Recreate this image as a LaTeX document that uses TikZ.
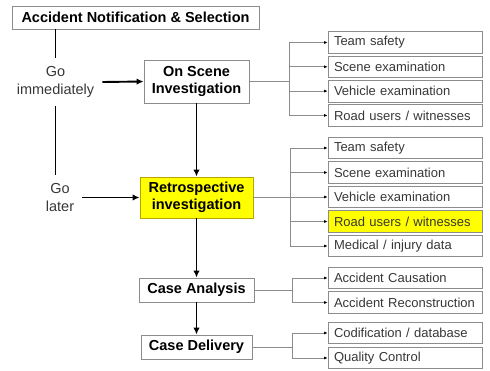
\documentclass[tikz,border=0pt]{standalone}
\usepackage{fontspec}
\setmainfont{Liberation Sans}
\usetikzlibrary{arrows.meta}

\definecolor{boxgray}{RGB}{140,140,140}
\definecolor{textgray}{RGB}{55,55,55}
\definecolor{hiyellow}{RGB}{255,255,0}
\definecolor{hiborder}{RGB}{185,165,0}

\begin{document}
\begin{tikzpicture}[x=1pt, y=-1pt]
    % Define styles
    \tikzstyle{stage} = [rectangle, draw=boxgray, line width=0.9pt, fill=white, inner sep=0pt, align=center, font=\fontsize{14.5}{17.5}\selectfont\bfseries]
    \tikzstyle{hstage} = [stage, fill=hiyellow, draw=hiborder]
    \tikzstyle{task} = [rectangle, draw=boxgray, line width=0.7pt, minimum width=154pt, minimum height=21.5pt, text width=142pt, inner xsep=6pt, inner ysep=0pt, align=left, text=textgray, font=\fontsize{13}{15}\selectfont]
    \tikzstyle{htask} = [task, fill=hiyellow]
    \tikzstyle{when} = [inner xsep=8pt, inner ysep=0pt, align=center, text=textgray, font=\fontsize{14.5}{17.5}\selectfont]
    \tikzstyle{link} = [black, line width=1.9pt]
    \tikzstyle{flow} = [link, -{Latex[length=7pt, width=6.5pt]}]
    \tikzstyle{branch} = [boxgray, line width=0.7pt, -{Latex[length=3.5pt, width=3pt, color=black]}]

    \useasboundingbox (0, 0) rectangle (490, 370);

    % Main stages
    \node[stage, minimum width=247pt, minimum height=23pt] (notify) at (135.5, 17.5) {Accident Notification \& Selection};
    \node[stage, minimum width=105pt, minimum height=43pt] (onscene) at (196.5, 81.5) {On Scene\\Investigation};
    \node[hstage, minimum width=113pt, minimum height=41pt] (retro) at (196.5, 197.5) {Retrospective\\investigation};
    \node[stage, minimum width=115pt, minimum height=24pt] (analysis) at (196.5, 290) {Case Analysis};
    \node[stage, minimum width=111pt, minimum height=24pt] (delivery) at (196.5, 347) {Case Delivery};

    % Timing
    \node[when, minimum height=47pt] (goimm) at (55.5, 82) {Go\\immediately};
    \node[when, minimum height=44pt] (golater) at (60, 197.5) {Go\\later};

    \draw[link] (notify.south -| goimm) -- (goimm.north);
    \draw[link] (goimm.south) -- (goimm.south |- golater.north);
    \draw[flow] (goimm.east) -- (onscene.west);
    \draw[flow] (golater.east) -- (retro.west);
    \draw[flow] (onscene.south) -- (retro.north);
    \draw[flow] (retro.south) -- (analysis.north);
    \draw[flow] (analysis.south) -- (delivery.north);

    % On scene tasks
    \node[task] (os1) at (405, 42.5) {Team safety};
    \node[task] (os2) at (405, 66.8) {Scene examination};
    \node[task] (os3) at (405, 91.1) {Vehicle examination};
    \node[task] (os4) at (405, 115.4) {Road users / witnesses};

    % Retrospective tasks
    \node[task] (rt1) at (405, 148) {Team safety};
    \node[task] (rt2) at (405, 172.5) {Scene examination};
    \node[task] (rt3) at (405, 197) {Vehicle examination};
    \node[htask] (rt4) at (405, 221.5) {Road users / witnesses};
    \node[task] (rt5) at (405, 246) {Medical / injury data};

    % Analysis tasks
    \node[task] (ca1) at (405, 278) {Accident Causation};
    \node[task] (ca2) at (405, 302.5) {Accident Reconstruction};

    % Delivery tasks
    \node[task] (cd1) at (405, 333) {Codification / database};
    \node[task] (cd2) at (405, 358) {Quality Control};

    % Branches
    \path (onscene.east) ++(40, 0) coordinate (split1);
    \path (retro.east) ++(37, 0) coordinate (split2);
    \path (analysis.east) ++(38, 0) coordinate (split3);
    \path (delivery.east) ++(40, 0) coordinate (split4);

    \draw[branch, -] (onscene.east) -- (split1);
    \draw[branch] (split1) |- (os1.west);
    \draw[branch] (split1) |- (os2.west);
    \draw[branch] (split1) |- (os3.west);
    \draw[branch] (split1) |- (os4.west);

    \draw[branch, -] (retro.east) -- (split2);
    \draw[branch] (split2) |- (rt1.west);
    \draw[branch] (split2) |- (rt2.west);
    \draw[branch] (split2) |- (rt3.west);
    \draw[branch] (split2) |- (rt4.west);
    \draw[branch] (split2) |- (rt5.west);

    \draw[branch, -] (analysis.east) -- (split3);
    \draw[branch] (split3) |- (ca1.west);
    \draw[branch] (split3) |- (ca2.west);

    \draw[branch, -] (delivery.east) -- (split4);
    \draw[branch] (split4) |- (cd1.west);
    \draw[branch] (split4) |- (cd2.west);

\end{tikzpicture}
\end{document}
